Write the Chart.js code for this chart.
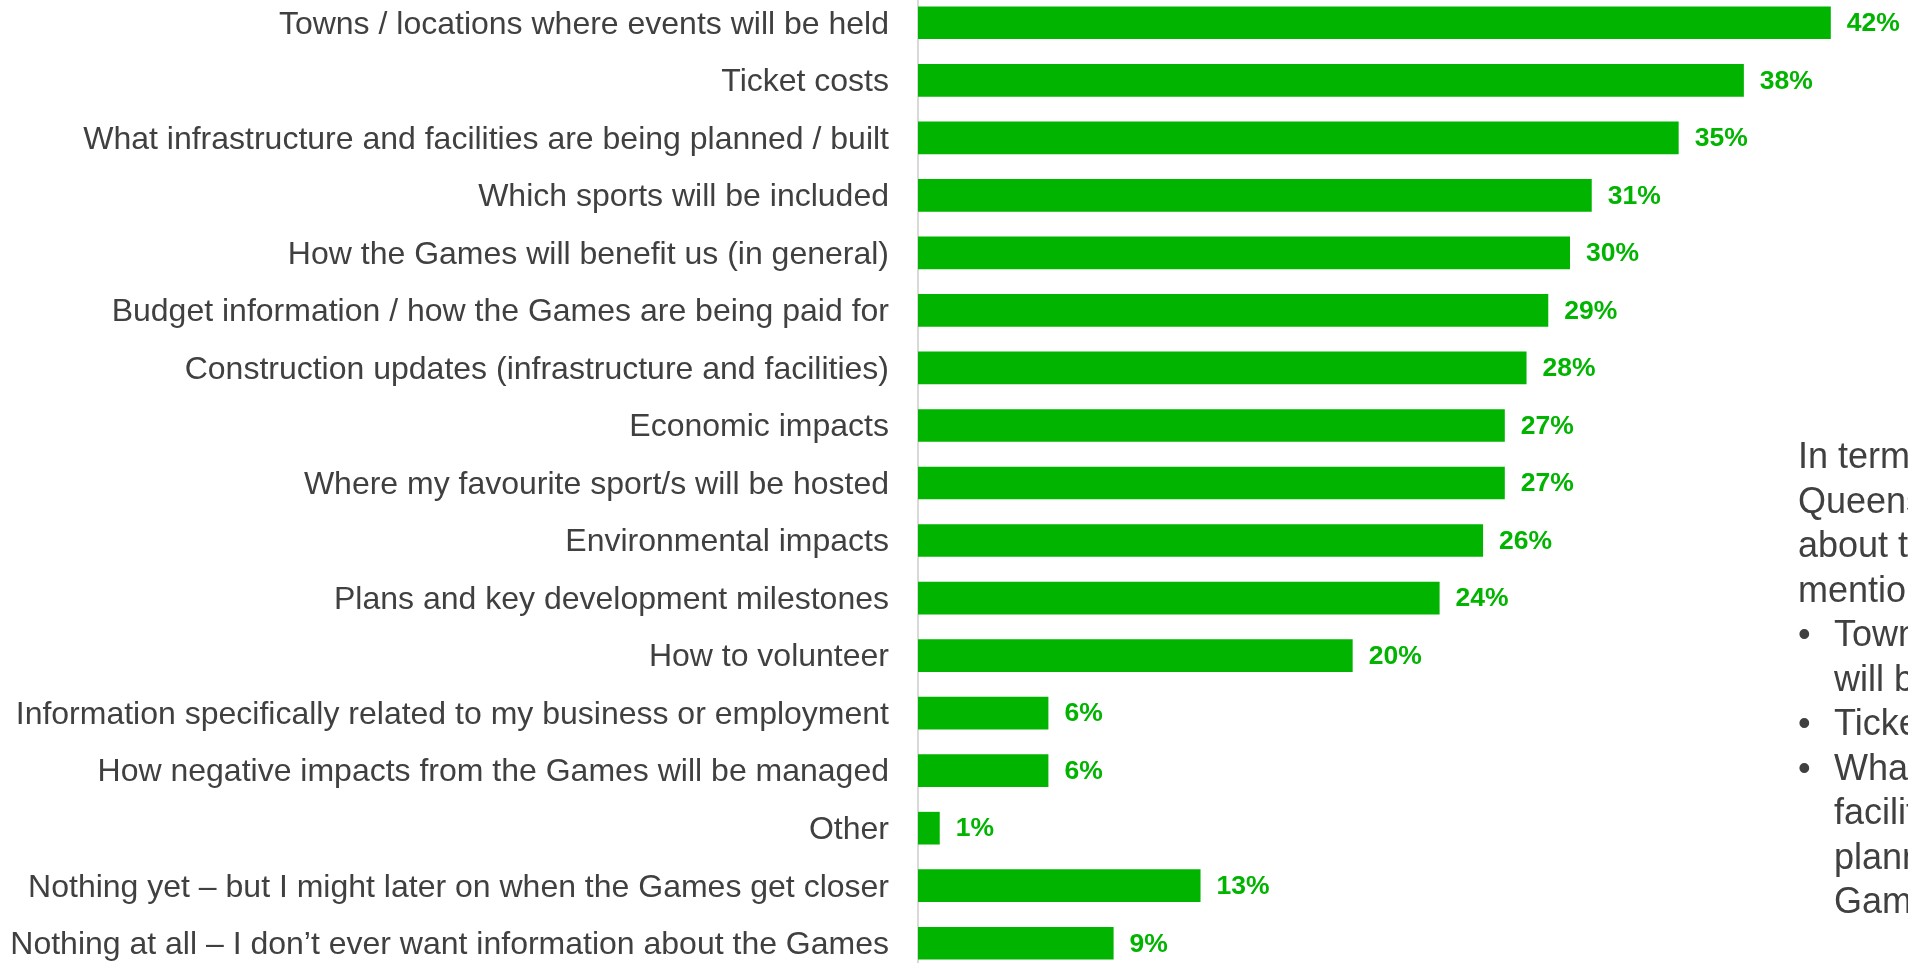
<!DOCTYPE html>
<html>
<head>
<meta charset="utf-8">
<script src="https://cdn.jsdelivr.net/npm/chart.js@4/dist/chart.umd.min.js"></script>
<style>
  html, body { margin: 0; padding: 0; background: #ffffff; overflow: hidden; width: 1908px; height: 963px; }
  #wrap { position: absolute; left: 0; top: -6px; width: 1908px; height: 978px; }
  .note { position: absolute; left: 1798px; top: 434px; font-family: "Liberation Sans", Arial, sans-serif;
          font-size: 36px; line-height: 44.5px; color: #404040; white-space: nowrap; }
  .note div { position: relative; }
  .note .b { padding-left: 36px; }
  .note .b span { position: absolute; left: 0; }
</style>
</head>
<body>
<div id="wrap"><canvas id="chart"></canvas></div>
<div class="note">
  <div>In terms of information,</div>
  <div>Queenslanders would like to hear</div>
  <div>about the Games, the most</div>
  <div>mentioned topics were:</div>
  <div class="b"><span>•</span>Towns / locations where events</div>
  <div class="b">will be held</div>
  <div class="b"><span>•</span>Ticket costs</div>
  <div class="b"><span>•</span>What infrastructure and</div>
  <div class="b">facilities are being</div>
  <div class="b">planned / built for the</div>
  <div class="b">Games</div>
</div>
<script>
// Topics people want to hear about, share of respondents (%)
const categories = [
  "Towns / locations where events will be held",
  "Ticket costs",
  "What infrastructure and facilities are being planned / built",
  "Which sports will be included",
  "How the Games will benefit us (in general)",
  "Budget information / how the Games are being paid for",
  "Construction updates (infrastructure and facilities)",
  "Economic impacts",
  "Where my favourite sport/s will be hosted",
  "Environmental impacts",
  "Plans and key development milestones",
  "How to volunteer",
  "Information specifically related to my business or employment",
  "How negative impacts from the Games will be managed",
  "Other",
  "Nothing yet \u2013 but I might later on when the Games get closer",
  "Nothing at all \u2013 I don\u2019t ever want information about the Games"
];
const shares = [42, 38, 35, 31, 30, 29, 28, 27, 27, 26, 24, 20, 6, 6, 1, 13, 9];

const GREEN = '#00b400';

// Writes the percentage just past the end of each bar
const valueLabels = {
  id: 'valueLabels',
  afterDatasetsDraw(chart) {
    const ctx = chart.ctx;
    const meta = chart.getDatasetMeta(0);
    ctx.save();
    ctx.font = 'bold 26.5px "Liberation Sans", Arial, sans-serif';
    ctx.fillStyle = GREEN;
    ctx.textAlign = 'left';
    ctx.textBaseline = 'middle';
    meta.data.forEach((bar, i) => {
      ctx.fillText(shares[i] + '%', bar.x + 16, bar.y + 1);
    });
    ctx.restore();
  }
};

new Chart(document.getElementById('chart'), {
  type: 'bar',
  data: {
    labels: categories,
    datasets: [{
      data: shares,
      backgroundColor: GREEN,
      borderWidth: 0,
      categoryPercentage: 1,
      barPercentage: 0.568
    }]
  },
  options: {
    indexAxis: 'y',
    responsive: true,
    maintainAspectRatio: false,
    animation: false,
    layout: { padding: { left: 0, right: 12, top: 0, bottom: 0 } },
    plugins: { legend: { display: false }, tooltip: { enabled: false } },
    scales: {
      x: { display: false, min: 0, max: 45 },
      y: {
        afterFit(scale) {
          scale.width = 918;
          scale.paddingTop = 0;
          scale.paddingBottom = 0;
        },
        grid: { display: false, drawTicks: false, tickLength: 0 },
        border: { display: true, color: '#d9d9d9', width: 2 },
        ticks: {
          padding: 29,
          labelOffset: 2,
          color: '#404040',
          font: { family: '"Liberation Sans", Arial, sans-serif', size: 32 },
          autoSkip: false
        }
      }
    }
  },
  plugins: [valueLabels]
});
</script>
</body>
</html>
